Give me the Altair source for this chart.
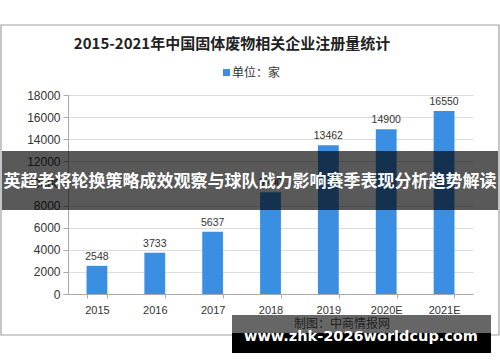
import altair as alt
import pandas as pd

years = ["2015", "2016", "2017", "2018", "2019", "2020E", "2021E"]
counts = [2548, 3733, 5637, 9200, 13462, 14900, 16550]
y_ticks = [0, 2000, 4000, 6000, 8000, 10000, 12000, 14000, 16000, 18000]

title_text = "2015-2021年中国固体废物相关企业注册量统计"
legend_text = "单位：家"
source_text = "制图：中商情报网"
banner_text = "英超老将轮换策略成效观察与球队战力影响赛季表现分析趋势解读"
url_text = "www.zhk-2026worldcup.com"

df = pd.DataFrame({"year": years, "count": counts})
one = pd.DataFrame({"k": [0]})

W, H = 405, 199
L, T = 68, 95
CJK = "Noto Sans CJK SC"

x_enc = alt.X(
    "year:N", sort=years,
    scale=alt.Scale(paddingInner=0.64, paddingOuter=0.32),
    axis=alt.Axis(title=None, labelAngle=0, tickBand="extent", tickSize=4,
                  domainColor="#aaaaaa", tickColor="#aaaaaa", labelColor="#333333",
                  labelFont="Liberation Sans", labelFontSize=11, labelPadding=6,
                  grid=False),
)
y_enc = alt.Y(
    "count:Q",
    scale=alt.Scale(domain=[0, 18000], nice=False),
    axis=alt.Axis(title=None, values=y_ticks, format="d", labelOverlap=False,
                  tickSize=5, grid=True, gridColor="#dcdcdc",
                  domainColor="#aaaaaa", tickColor="#aaaaaa", labelColor="#333333",
                  labelFont="Liberation Sans", labelFontSize=12, labelPadding=3),
)

bars = alt.Chart(df).mark_bar(color="#3b8fe2").encode(x=x_enc, y=y_enc)
labels = alt.Chart(df).mark_text(dy=-9, fontSize=10.5, color="#333333",
                                 font="Liberation Sans").encode(
    x=x_enc, y=y_enc, text="count:Q")

def rect(x1, y1, x2, y2, **kw):
    return alt.Chart(one).mark_rect(**kw).encode(
        x=alt.value(x1 - L), x2=alt.value(x2 - L),
        y=alt.value(y1 - T), y2=alt.value(y2 - T))

def txt(s, xx, yy, **kw):
    return alt.Chart(one).mark_text(**kw).encode(
        x=alt.value(xx - L), y=alt.value(yy - T), text=alt.value(s))

frame = rect(1, 25, 499, 335, fill=None, stroke="#a0a0a0", strokeWidth=1.2)
title = txt(title_text, 232, 44, fontSize=15, fontWeight="bold", font=CJK, color="#222222")
leg_sq = rect(223, 69, 230, 76, color="#3b8fe2")
leg_tx = txt(legend_text, 232, 73, align="left", fontSize=12, font=CJK, color="#333333")
source = txt(source_text, 342, 324, fontSize=12, font=CJK, color="#555555")

banner = rect(2, 151, 498, 210, color="#000000", opacity=0.65)
banner_t = txt(banner_text, 250, 182, fontSize=17, fontWeight="bold", font=CJK, color="#ffffff")

b2a = rect(232, 315, 491, 333, color="#000000", opacity=0.6)
b2b = rect(232, 333, 491, 353, color="#000000", opacity=1)
b2t = txt(url_text, 361, 337, fontSize=14.5, fontWeight="bold", font="DejaVu Sans", color="#ffffff")

chart = alt.layer(
    frame, bars, labels, title, leg_sq, leg_tx, source,
    banner, banner_t, b2a, b2b, b2t
).properties(
    width=W, height=H,
    autosize=alt.AutoSizeParams(type="none"),
    padding={"left": L, "top": T, "right": 500 - L - W, "bottom": 362 - T - H},
    background="#ffffff",
).configure_view(stroke=None)

chart.save("out.html", embed_options={"renderer": "svg", "actions": False})
